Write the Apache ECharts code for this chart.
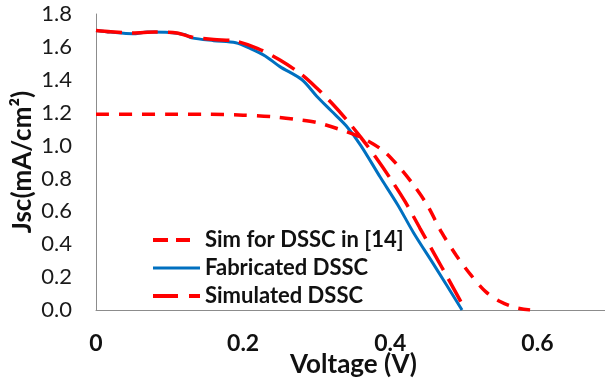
<!DOCTYPE html>
<html>
<head>
<meta charset="utf-8">
<script src="https://cdn.jsdelivr.net/npm/echarts@6/dist/echarts.min.js"></script>
<style>
  html, body { margin: 0; padding: 0; background: #fff; }
  #main { width: 605px; height: 380px; }
</style>
</head>
<body>
<div id="main"></div>
<script>
// 图例名称
const seriesNames = ["Sim for DSSC in [14]", "Fabricated DSSC", "Simulated DSSC"];

// 文献[14]的仿真曲线 [V, J]
const simRefData = [
  [0, 1.19], [0.05, 1.19], [0.1, 1.19], [0.15, 1.19], [0.2, 1.185],
  [0.24, 1.175], [0.27, 1.16], [0.3, 1.14], [0.33, 1.1], [0.36, 1.05],
  [0.39, 0.97], [0.41, 0.88], [0.43, 0.77], [0.45, 0.64], [0.47, 0.47],
  [0.49, 0.33], [0.51, 0.21], [0.53, 0.11], [0.55, 0.05], [0.57, 0.015],
  [0.59, 0]
];

// 实际制备的电池
const fabricatedData = [
  [0, 1.7], [0.02, 1.69], [0.05, 1.68], [0.07, 1.69], [0.1, 1.688],
  [0.12, 1.675], [0.13, 1.655], [0.16, 1.638], [0.19, 1.625], [0.21, 1.59],
  [0.23, 1.545], [0.25, 1.48], [0.28, 1.4], [0.3, 1.3], [0.32, 1.21],
  [0.34, 1.12], [0.36, 1.0], [0.386, 0.81], [0.41, 0.64], [0.432, 0.467],
  [0.46, 0.27], [0.4975, 0]
];

// 仿真的电池
const simulatedData = [
  [0, 1.7], [0.02, 1.692], [0.05, 1.685], [0.08, 1.69], [0.11, 1.685],
  [0.13, 1.66], [0.16, 1.645], [0.19, 1.635], [0.22, 1.59], [0.25, 1.52],
  [0.28, 1.43], [0.3, 1.35], [0.32, 1.26], [0.34, 1.16], [0.36, 1.05],
  [0.38, 0.93], [0.4, 0.8], [0.42, 0.66], [0.44, 0.5], [0.46, 0.34],
  [0.48, 0.18], [0.502, 0]
];

const font = "Lato, sans-serif";

// 图例图标(虚线段用矩形拼出来)
const legendIcons = {
  short: "path://M0,0h15v4h-15z M23,0h14v4h-14z M47,0v4",
  solid: "path://M0,0h47v3h-47z",
  long: "path://M0,0h25v4h-25z M36,0h11v4h-11z",
};

var myChart = echarts.init(document.getElementById("main"));

var option = {
  animation: false,
  textStyle: { fontFamily: font },
  grid: { left: 96, right: -6, top: 14, bottom: 70, outerBoundsMode: "none", containLabel: false },
  legend: {
    data: [
      { name: seriesNames[0], icon: legendIcons.short },
      { name: seriesNames[1], icon: legendIcons.solid },
      { name: seriesNames[2], icon: legendIcons.long },
    ],
    orient: "vertical",
    left: 148,
    top: 224,
    itemWidth: 47,
    itemHeight: 4,
    itemGap: 6,
    textStyle: { fontFamily: font, fontSize: 22, fontWeight: "bold", color: "#111" },
  },
  xAxis: {
    type: "value",
    min: 0,
    max: 0.7,
    interval: 0.2,
    name: "Voltage (V)",
    nameLocation: "middle",
    nameGap: 42,
    nameMoveOverlap: false,
    nameTextStyle: { fontSize: 26, fontWeight: "bold", color: "#111" },
    axisLine: { lineStyle: { color: "#8c8c8c", width: 1 } },
    axisTick: { show: false },
    splitLine: { show: false },
    axisLabel: {
      margin: 22,
      fontSize: 23,
      fontWeight: "bold",
      color: "#111",
      showMaxLabel: false,
      formatter: (v) => (v === 0 ? "0" : v.toFixed(1)),
    },
  },
  yAxis: {
    type: "value",
    min: 0,
    max: 1.8,
    interval: 0.2,
    name: "Jsc(mA/cm²)",
    nameLocation: "middle",
    nameGap: 60,
    nameMoveOverlap: false,
    nameTextStyle: { fontSize: 26, fontWeight: "bold", color: "#111" },
    axisLine: { show: true, lineStyle: { color: "#8c8c8c", width: 1 } },
    axisTick: { show: false },
    splitLine: { show: false },
    axisLabel: {
      margin: 24,
      fontSize: 22,
      color: "#1a1a1a",
      formatter: (v) => v.toFixed(1),
    },
  },
  series: [
    {
      name: seriesNames[1],
      type: "line",
      data: fabricatedData,
      smooth: 0.3,
      symbol: "none",
      lineStyle: { color: "#0070C0", width: 3 },
      itemStyle: { color: "#0070C0" },
      z: 2,
    },
    {
      name: seriesNames[2],
      type: "line",
      data: simulatedData,
      smooth: 0.3,
      symbol: "none",
      lineStyle: { color: "#FF0000", width: 3.5, type: [26, 10] },
      itemStyle: { color: "#FF0000" },
      z: 3,
    },
    {
      name: seriesNames[0],
      type: "line",
      data: simRefData,
      smooth: 0.3,
      symbol: "none",
      lineStyle: { color: "#FF0000", width: 3.5, type: [13, 10] },
      itemStyle: { color: "#FF0000" },
      z: 4,
    },
  ],
};

myChart.setOption(option);
</script>
</body>
</html>
